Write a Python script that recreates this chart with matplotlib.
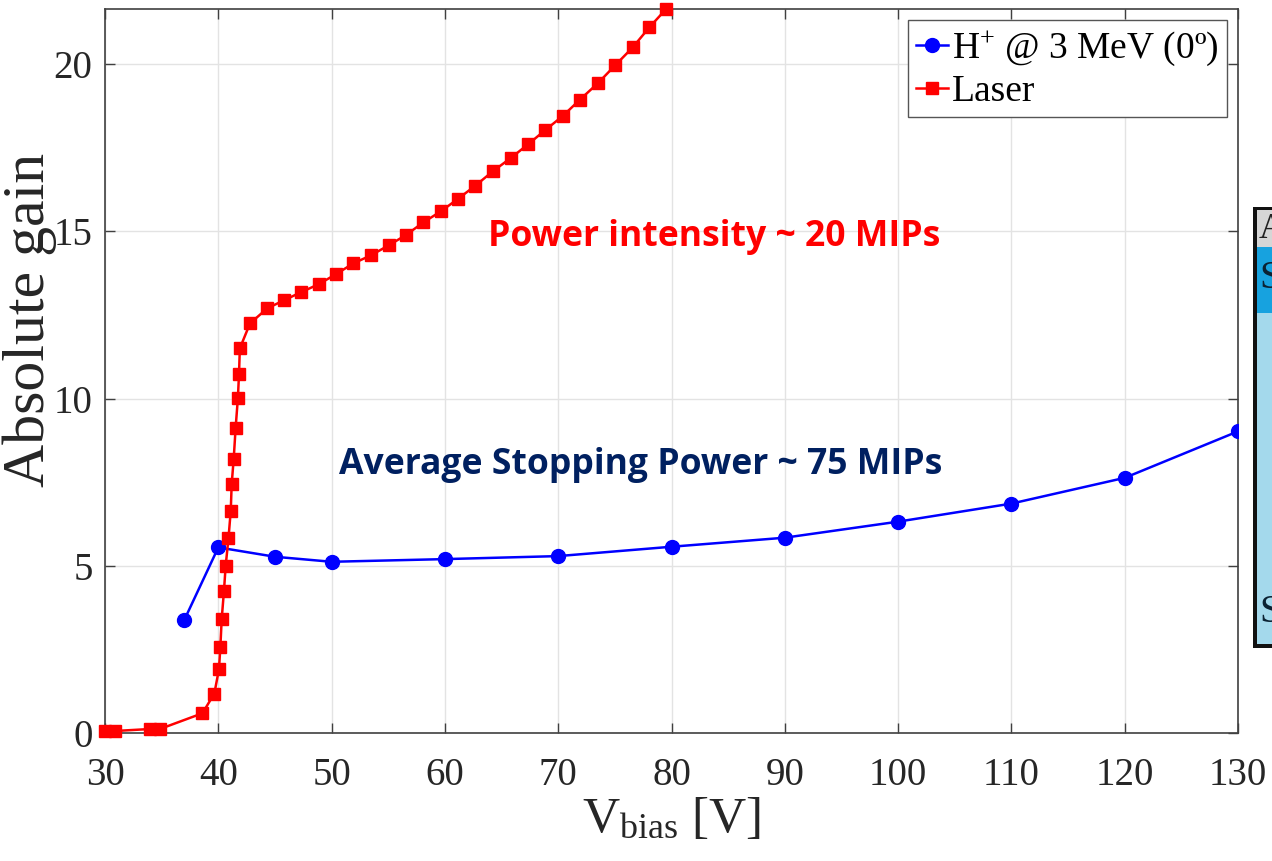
import numpy as np
import matplotlib
matplotlib.use("Agg")
import matplotlib.pyplot as plt
from matplotlib.patches import Rectangle

# proton beam gain vs bias
vbias_h = [37, 40, 45, 50, 60, 70, 80, 90, 100, 110, 120, 130]
gain_h = [3.38, 5.55, 5.27, 5.12, 5.20, 5.29, 5.57, 5.84, 6.32, 6.86, 7.63, 9.02]

# laser gain vs bias
vbias_l = [30.0, 30.9, 34.0, 34.85, 38.6, 39.65, 40.06, 40.18, 40.3, 40.5, 40.65,
           40.9, 41.1, 41.18, 41.36, 41.53, 41.73, 41.83, 41.9, 42.8, 44.33, 45.8,
           47.3, 48.86, 50.39, 51.9, 53.45, 55.03, 56.56, 58.1, 59.65, 61.18, 62.7,
           64.24, 65.8, 67.33, 68.86, 70.4, 71.92, 73.5, 75.04, 76.57, 78.04, 79.5]
gain_l = [0.06, 0.06, 0.12, 0.12, 0.59, 1.18, 1.91, 2.56, 3.41, 4.25, 5.0,
          5.83, 6.65, 7.44, 8.2, 9.13, 10.02, 10.75, 11.5, 12.25, 12.7, 12.94,
          13.18, 13.42, 13.72, 14.04, 14.28, 14.58, 14.89, 15.27, 15.6, 15.98, 16.37,
          16.8, 17.19, 17.6, 18.03, 18.45, 18.94, 19.43, 19.97, 20.5, 21.1, 21.64]

xticks = [30, 40, 50, 60, 70, 80, 90, 100, 110, 120, 130]
yticks = [0, 5, 10, 15, 20]

plt.rcParams['font.family'] = ['Liberation Serif', 'DejaVu Serif']
plt.rcParams['mathtext.fontset'] = 'custom'
plt.rcParams['mathtext.rm'] = 'Liberation Serif'
plt.rcParams['mathtext.it'] = 'Liberation Serif:italic'

W, H = 1272, 861
fig = plt.figure(figsize=(W / 100, H / 100), dpi=100)
ax = fig.add_axes([105 / W, 1 - 733 / H, (1238 - 105) / W, (733 - 9) / H])

ax.plot(vbias_h, gain_h, '-o', color='#0000ff', lw=1.8, ms=10,
        label='H$^{+}$ @ 3 MeV (0º)', zorder=3)
ax.plot(vbias_l, gain_l, '-s', color='#ff0000', lw=1.8, ms=8,
        label='Laser', zorder=4, clip_on=False)

ax.set_xlim(30, 130)
ax.set_ylim(0, 21.65)
ax.set_xticks(xticks)
ax.set_yticks(yticks)
ax.grid(True, color='#e3e3e3', lw=1.0)
ax.set_axisbelow(True)
ax.tick_params(direction='in', top=True, right=True, length=7, width=1.0,
               color='#404040', labelsize=28, labelcolor='#262626')
ax.tick_params(axis='x', pad=17)
ax.tick_params(axis='y', pad=9)
for s in ax.spines.values():
    s.set_color('#404040')
    s.set_linewidth(1.2)

ax.set_xlabel('V$_{\\rm bias}$ [V]', fontsize=37, color='#262626')
ax.xaxis.set_label_coords(0.5, -0.088)
ax.set_ylabel('Absolute gain', fontsize=43, color='#262626')
ax.yaxis.set_label_coords(-0.042, 0.57)

leg = ax.legend(loc='upper right', fontsize=27, handlelength=0.85,
                handletextpad=0.1, borderpad=0.22, labelspacing=0.18,
                fancybox=False, framealpha=1, edgecolor='#555555',
                borderaxespad=0.3)
leg.get_frame().set_linewidth(1.0)

ax.text(83.8, 14.83, 'Power intensity ~ 20 MIPs', color='#ff0000', fontsize=25.6,
        fontweight='bold', family='Open Sans', ha='center', va='center')
ax.text(77.3, 8.0, 'Average Stopping Power ~ 75 MIPs', color='#002060',
        fontsize=25.6, fontweight='bold', family='Open Sans', ha='center', va='center')

# table at the right edge of the slide
def fx(px):
    return px / W

def fy(py):
    return 1 - py / H

fig.patches.append(Rectangle((fx(1253), fy(648)), fx(40), (648 - 207) / H,
                             transform=fig.transFigure, facecolor='#111111',
                             edgecolor='none'))
fig.patches.append(Rectangle((fx(1257), fy(644)), fx(40), (644 - 313) / H,
                             transform=fig.transFigure, facecolor='#a4d9ec',
                             edgecolor='none'))
fig.patches.append(Rectangle((fx(1257), fy(313)), fx(40), (313 - 247) / H,
                             transform=fig.transFigure, facecolor='#17a2df',
                             edgecolor='none'))
fig.patches.append(Rectangle((fx(1257), fy(247)), fx(40), (247 - 210) / H,
                             transform=fig.transFigure, facecolor='#d6d6d6',
                             edgecolor='none'))
fig.text(fx(1259), fy(229), 'A', fontsize=26, va='center', ha='left', color='#222222')
fig.text(fx(1259), fy(279), 'S', fontsize=28, va='center', ha='left', color='#0b2233')
fig.text(fx(1259), fy(612), 'S', fontsize=28, va='center', ha='left', color='#0b2233')

fig.savefig('out.png', dpi=100)
